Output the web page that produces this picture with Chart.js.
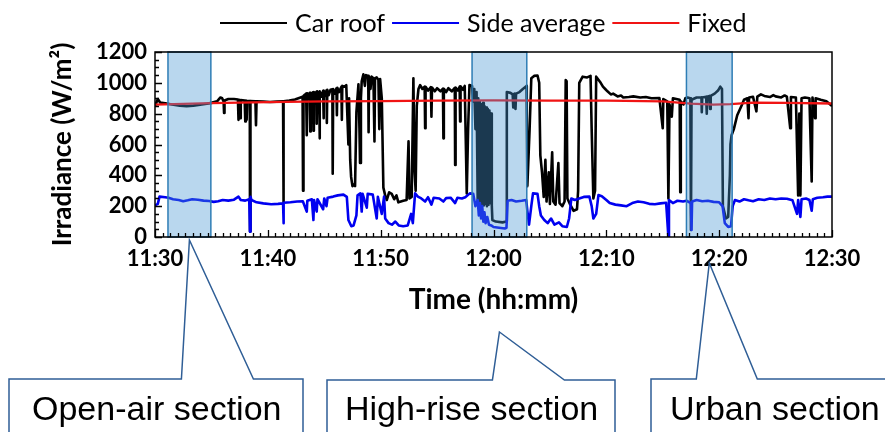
<!DOCTYPE html>
<html>
<head>
<meta charset="utf-8">
<script src="https://cdn.jsdelivr.net/npm/chart.js@4.4.0/dist/chart.umd.min.js"></script>
<style>
  body { margin: 0; background: #fff; }
  #wrap { width: 885px; height: 432px; }
</style>
</head>
<body>
<div id="wrap"><canvas id="irrChart" width="885" height="432"></canvas></div>
<script>
// x values are minutes after 11:30
const timeLabels = ['11:30', '11:40', '11:50', '12:00', '12:10', '12:20', '12:30'];

const roofSeries = [
  [0, 850], [0.25, 895], [0.45, 872], [0.9, 868], [1.5, 860], [2.2, 852], [2.8, 848], [3.4, 852],
  [4.0, 858], [4.6, 864], [5.0, 870], [5.5, 880], [5.8, 905], [5.95, 900], [6.08, 880], [6.12, 805],
  [6.16, 885], [6.5, 895], [7.0, 895], [7.35, 892], [7.4, 760], [7.45, 890], [7.55, 770], [7.6, 888],
  [7.95, 885], [8.0, 750], [8.05, 885], [8.12, 760], [8.17, 882], [8.4, 882], [8.42, 35], [8.45, 35],
  [8.47, 882], [8.9, 880], [8.95, 725], [9.0, 880], [9.6, 878], [10.2, 876], [10.8, 878], [11.35, 880],
  [11.38, 225], [11.41, 880], [11.9, 885], [12.4, 892], [12.9, 905], [13.08, 910], [13.12, 300], [13.16, 915],
  [13.3, 925], [13.35, 880], [13.4, 930], [13.45, 660], [13.5, 932], [13.6, 900], [13.72, 935], [13.76, 685],
  [13.8, 935], [13.9, 890], [14.0, 938], [14.04, 690], [14.08, 940], [14.2, 905], [14.3, 942], [14.33, 735],
  [14.37, 945], [14.45, 900], [14.55, 940], [14.58, 640], [14.62, 945], [14.75, 910], [14.9, 948], [14.93, 770],
  [14.97, 950], [15.1, 915], [15.2, 952], [15.23, 740], [15.27, 955], [15.4, 920], [15.55, 955], [15.72, 958],
  [15.75, 410], [15.79, 960], [15.95, 930], [16.08, 965], [16.12, 790], [16.16, 968], [16.3, 940], [16.52, 975],
  [16.56, 760], [16.6, 980], [16.8, 975], [16.95, 985], [17.14, 600], [17.2, 900], [17.3, 500], [17.38, 390],
  [17.5, 330], [17.6, 340], [17.73, 330], [17.85, 810], [18.03, 990], [18.12, 700], [18.17, 480], [18.25, 900],
  [18.32, 1010], [18.47, 1055], [18.6, 980], [18.7, 1050], [18.9, 1045], [18.93, 680], [18.97, 1040], [19.1, 960],
  [19.2, 1040], [19.36, 1030], [19.45, 620], [19.5, 1030], [19.65, 1035], [19.8, 1020], [19.88, 700], [19.95, 1025],
  [20.1, 900], [20.24, 320], [20.4, 270], [20.54, 240], [20.75, 290], [20.98, 280], [21.2, 245], [21.4, 270],
  [21.57, 225], [22.0, 235], [22.3, 240], [22.47, 620], [22.55, 250], [22.75, 260], [22.9, 1030], [23.0, 440],
  [23.1, 300], [23.2, 850], [23.35, 960], [23.5, 985], [23.7, 960], [23.9, 975], [23.94, 705], [23.98, 975],
  [24.2, 950], [24.45, 972], [24.5, 780], [24.55, 970], [24.8, 945], [25.0, 965], [25.3, 945], [25.52, 962],
  [25.56, 640], [25.6, 962], [25.8, 940], [26.0, 965], [26.3, 945], [26.57, 968], [26.6, 467], [26.64, 970],
  [26.85, 950], [27.0, 975], [27.04, 750], [27.08, 978], [27.3, 955], [27.45, 980], [27.55, 600], [27.63, 283],
  [27.75, 700], [27.87, 986], [28.1, 980], [28.2, 880], [28.3, 960], [28.4, 700], [28.5, 940], [28.6, 230],
  [28.65, 900], [28.72, 220], [28.78, 880], [28.85, 215], [28.92, 860], [29.0, 210], [29.07, 870], [29.14, 205],
  [29.2, 850], [29.28, 215], [29.35, 840], [29.42, 200], [29.5, 830], [29.57, 210], [29.64, 820], [29.7, 220],
  [29.78, 800], [29.85, 200], [29.9, 110], [30.2, 100], [30.8, 95], [31.15, 100], [31.18, 940], [31.5, 935],
  [31.7, 925], [31.75, 840], [31.8, 928], [31.9, 930], [31.95, 830], [32.0, 930], [32.3, 940], [32.6, 960],
  [32.85, 975], [32.93, 980], [32.95, 800], [33.0, 330], [33.2, 700], [33.35, 1030], [33.6, 1045], [33.9, 1048],
  [34.05, 1000], [34.15, 530], [34.3, 420], [34.45, 260], [34.6, 500], [34.7, 230], [34.9, 420], [35.0, 215],
  [35.2, 550], [35.3, 230], [35.5, 210], [35.75, 480], [35.85, 220], [36.1, 200], [36.3, 230], [36.4, 1018],
  [36.48, 1010], [36.55, 250], [36.8, 210], [37.1, 170], [37.4, 180], [37.5, 300], [37.6, 1000], [37.9, 1040],
  [38.3, 1035], [38.6, 1045], [38.7, 700], [38.85, 250], [39.0, 300], [39.1, 1040], [39.3, 1020], [39.5, 1000],
  [39.7, 975], [39.9, 960], [40.1, 945], [40.4, 925], [40.6, 930], [41.0, 912], [41.3, 918], [41.5, 905],
  [42.0, 908], [42.4, 912], [43.0, 905], [43.5, 908], [44.0, 900], [44.7, 902], [45.0, 705], [45.05, 895],
  [45.4, 880], [45.5, 250], [45.6, 860], [45.8, 780], [45.9, 900], [46.2, 895], [46.5, 890], [46.55, 290],
  [46.6, 880], [46.84, 860], [47.0, 900], [47.2, 905], [47.45, 900], [47.5, 45], [47.55, 890], [48.0, 905],
  [48.43, 905], [48.46, 810], [48.5, 905], [48.85, 910], [48.9, 800], [48.95, 910], [49.15, 915], [49.2, 830],
  [49.25, 915], [49.6, 930], [49.9, 950], [50.1, 975], [50.25, 960], [50.33, 200], [50.6, 120], [50.8, 130],
  [50.95, 400], [51.0, 600], [51.1, 660], [51.3, 700], [51.6, 790], [52.0, 855], [52.2, 890], [52.5, 900],
  [52.6, 770], [52.65, 905], [53.0, 910], [53.3, 815], [53.38, 910], [53.7, 925], [54.0, 915], [54.5, 908],
  [54.8, 920], [55.0, 912], [55.5, 905], [55.8, 918], [56.0, 910], [56.3, 705], [56.36, 908], [56.8, 905],
  [57.0, 270], [57.1, 800], [57.2, 270], [57.3, 900], [57.6, 905], [58.0, 900], [58.2, 360], [58.27, 905],
  [58.5, 770], [58.55, 900], [59.0, 890], [59.5, 880], [60.0, 850]
];

const sideSeries = [
  [0, 205], [0.25, 215], [0.4, 262], [0.9, 258], [1.2, 255], [1.6, 245], [2.1, 240], [2.5, 232],
  [2.9, 238], [3.3, 245], [3.8, 242], [4.3, 236], [4.8, 233], [5.2, 228], [5.6, 232], [6.0, 240],
  [6.5, 236], [7.0, 242], [7.4, 262], [7.6, 240], [8.0, 236], [8.35, 245], [8.42, 35], [8.47, 260],
  [8.55, 240], [9.0, 225], [9.6, 218], [10.3, 212], [10.9, 215], [11.35, 218], [11.38, 90], [11.42, 222],
  [12.0, 225], [12.6, 230], [13.1, 232], [13.45, 165], [13.5, 235], [13.9, 245], [14.04, 110], [14.1, 240],
  [14.33, 165], [14.4, 245], [14.9, 180], [15.0, 250], [15.2, 200], [15.3, 255], [15.8, 262], [16.2, 270],
  [16.7, 275], [17.0, 260], [17.14, 110], [17.4, 70], [17.6, 75], [17.85, 140], [17.95, 270], [18.2, 283],
  [18.32, 165], [18.4, 280], [18.77, 190], [18.85, 280], [19.3, 275], [19.65, 120], [19.75, 260], [20.1, 150],
  [20.3, 262], [20.4, 120], [20.7, 90], [21.0, 80], [21.3, 100], [21.6, 75], [22.0, 70], [22.4, 75],
  [22.7, 150], [22.85, 90], [23.05, 283], [23.3, 262], [23.6, 250], [23.94, 230], [24.2, 258], [24.5, 210],
  [24.7, 255], [25.2, 250], [25.56, 230], [25.8, 252], [26.2, 255], [26.6, 220], [26.8, 255], [27.2, 250],
  [27.5, 258], [27.9, 283], [28.2, 280], [28.4, 200], [28.6, 240], [28.7, 140], [28.8, 220], [28.9, 120],
  [29.0, 200], [29.1, 100], [29.2, 160], [29.3, 90], [29.45, 130], [29.6, 80], [29.8, 75], [30.0, 65],
  [30.5, 60], [31.0, 55], [31.15, 60], [31.25, 235], [31.6, 240], [32.0, 230], [32.5, 235], [32.9, 240],
  [33.0, 170], [33.15, 80], [33.35, 200], [33.5, 283], [33.9, 280], [34.05, 200], [34.2, 140], [34.5, 110],
  [34.8, 90], [35.1, 120], [35.4, 80], [35.8, 95], [36.1, 70], [36.5, 65], [36.7, 120], [36.9, 250],
  [37.2, 240], [37.6, 250], [38.0, 260], [38.5, 262], [38.7, 200], [38.85, 120], [39.1, 150], [39.3, 272],
  [39.6, 265], [40.0, 240], [40.3, 220], [40.8, 210], [41.3, 205], [41.8, 200], [42.3, 220], [42.8, 230],
  [43.3, 225], [43.8, 215], [44.3, 212], [44.8, 218], [45.3, 222], [45.5, 0], [45.55, 240], [45.9, 220],
  [46.3, 235], [46.8, 230], [47.1, 235], [47.5, 220], [47.55, 45], [47.6, 230], [48.0, 240], [48.5, 232],
  [49.0, 235], [49.5, 228], [50.0, 225], [50.3, 200], [50.5, 90], [50.8, 65], [51.05, 70], [51.2, 200],
  [51.4, 240], [51.8, 230], [52.2, 245], [52.6, 238], [53.0, 232], [53.5, 245], [54.0, 240], [54.5, 250],
  [55.0, 245], [55.5, 250], [56.0, 248], [56.5, 238], [56.9, 150], [57.0, 240], [57.2, 130], [57.3, 245],
  [57.7, 250], [58.0, 240], [58.2, 170], [58.3, 245], [58.7, 255], [59.2, 258], [59.6, 262], [60.0, 262]
];

const fixedSeries = [
  [0, 858], [5, 868], [10, 875], [15, 880], [20, 882], [25, 884], [30, 886], [35, 885],
  [40, 884], [45, 880], [47.5, 865], [49.5, 858], [51, 862], [53, 872], [56, 870], [60, 866]
];

// start / end of the marked road sections (minutes)
const sections = [[1.15, 4.95], [28.1, 32.95], [47.1, 51.15]];
const sectionNames = ['Open-air section', 'High-rise section', 'Urban section'];

const toPts = arr => arr.map(([x, y]) => ({ x, y }));

Chart.defaults.font.family = 'Lato';
Chart.defaults.color = '#000';

// callout boxes under the plot, tip points at the middle of each section
const callouts = [
  { left: 9, right: 303, top: 379, tipY: 240, baseL: -8, baseR: 64, textX: 32 },
  { left: 327, right: 615, top: 380, tipY: 332, baseL: -7, baseR: 65, textX: 345 },
  { left: 651, right: 905, top: 379, tipY: 263, baseL: -13, baseR: 48, textX: 670 }
];

const decorations = {
  id: 'decorations',
  afterDatasetsDraw(chart) {
    const { ctx, chartArea: a, scales: { x, y } } = chart;
    ctx.save();
    sections.forEach(([s, e]) => {
      const x0 = x.getPixelForValue(s);
      const x1 = x.getPixelForValue(e);
      ctx.fillStyle = 'rgba(70,150,210,0.38)';
      ctx.fillRect(x0, a.top, x1 - x0, a.bottom - a.top);
      ctx.strokeStyle = '#2e7db5';
      ctx.lineWidth = 1.5;
      ctx.strokeRect(x0, a.top, x1 - x0, a.bottom - a.top);
    });

    ctx.strokeStyle = '#000';
    ctx.lineWidth = 1.5;
    ctx.strokeRect(a.left, a.top, a.right - a.left, a.bottom - a.top);

    // inward ticks, minor ones every 50 W/m2 and every 40 s
    ctx.lineWidth = 1.3;
    ctx.beginPath();
    for (let v = 0; v <= 1200; v += 50) {
      const py = Math.round(y.getPixelForValue(v)) + 0.5;
      const len = v % 200 === 0 ? 7 : 4;
      ctx.moveTo(a.left, py);
      ctx.lineTo(a.left + len, py);
    }
    for (let i = 0; i <= 90; i++) {
      const px = Math.round(x.getPixelForValue(i * 2 / 3)) + 0.5;
      const len = i % 15 === 0 ? 7 : 4;
      ctx.moveTo(px, a.bottom);
      ctx.lineTo(px, a.bottom - len);
    }
    ctx.stroke();
    ctx.restore();
  },
  afterDraw(chart) {
    const { ctx, scales: { x } } = chart;
    ctx.save();

    // legend row
    ctx.font = '25px Lato';
    ctx.textBaseline = 'middle';
    let lx = 220;
    chart.data.datasets.forEach(ds => {
      ctx.strokeStyle = ds.borderColor;
      ctx.lineWidth = 2;
      ctx.beginPath();
      ctx.moveTo(lx, 23);
      ctx.lineTo(lx + 67, 23);
      ctx.stroke();
      lx += 67 + 8;
      ctx.fillStyle = '#000';
      ctx.fillText(ds.label, lx, 24);
      lx += ctx.measureText(ds.label).width + 7;
    });

    // section callouts
    ctx.strokeStyle = '#2f5e96';
    ctx.lineWidth = 1.5;
    ctx.font = '34px "Liberation Sans"';
    ctx.textBaseline = 'alphabetic';
    callouts.forEach((c, i) => {
      const [s, e] = sections[i];
      const tipX = x.getPixelForValue((s + e) / 2);
      ctx.beginPath();
      ctx.moveTo(c.left, 445);
      ctx.lineTo(c.left, c.top);
      ctx.lineTo(tipX + c.baseL, c.top);
      ctx.lineTo(tipX, c.tipY);
      ctx.lineTo(tipX + c.baseR, c.top);
      ctx.lineTo(c.right, c.top);
      ctx.lineTo(c.right, 445);
      ctx.stroke();
      ctx.fillStyle = '#000';
      ctx.fillText(sectionNames[i], c.textX, 420);
    });
    ctx.restore();
  }
};

new Chart(document.getElementById('irrChart'), {
  type: 'line',
  data: {
    datasets: [
      { label: 'Car roof', data: toPts(roofSeries), borderColor: '#000000', borderWidth: 2.6, order: 3 },
      { label: 'Side average', data: toPts(sideSeries), borderColor: '#0000f0', borderWidth: 2.6, order: 2 },
      { label: 'Fixed', data: toPts(fixedSeries), borderColor: '#f01414', borderWidth: 2.3, order: 1 }
    ]
  },
  options: {
    responsive: false,
    animation: false,
    layout: { padding: { top: 52, right: 53, bottom: 115, left: 0 } },
    elements: { point: { radius: 0 }, line: { tension: 0, borderJoinStyle: 'round' } },
    plugins: { legend: { display: false }, tooltip: { enabled: false } },
    scales: {
      x: {
        type: 'linear',
        min: 0,
        max: 60,
        afterFit: s => { s.height = 80; },
        grid: { display: false, drawTicks: false },
        border: { display: false },
        ticks: {
          stepSize: 10,
          padding: 9,
          maxRotation: 0,
          autoSkip: false,
          font: { size: 22, weight: 'bold' },
          callback: (v, i) => timeLabels[i]
        },
        title: { display: true, text: 'Time (hh:mm)', font: { size: 28, weight: 'bold' }, padding: 0 }
      },
      y: {
        min: 0,
        max: 1200,
        afterFit: s => { s.width = 155; },
        grid: { display: false, drawTicks: false },
        border: { display: false },
        ticks: { stepSize: 200, padding: 8, font: { size: 22, weight: 'bold' }, callback: v => String(v) },
        title: {
          display: true,
          text: 'Irradiance (W/m²)',
          font: { size: 26, weight: 'bold' },
          padding: { top: 47, bottom: 0 }
        }
      }
    }
  },
  plugins: [decorations]
});
</script>
</body>
</html>
